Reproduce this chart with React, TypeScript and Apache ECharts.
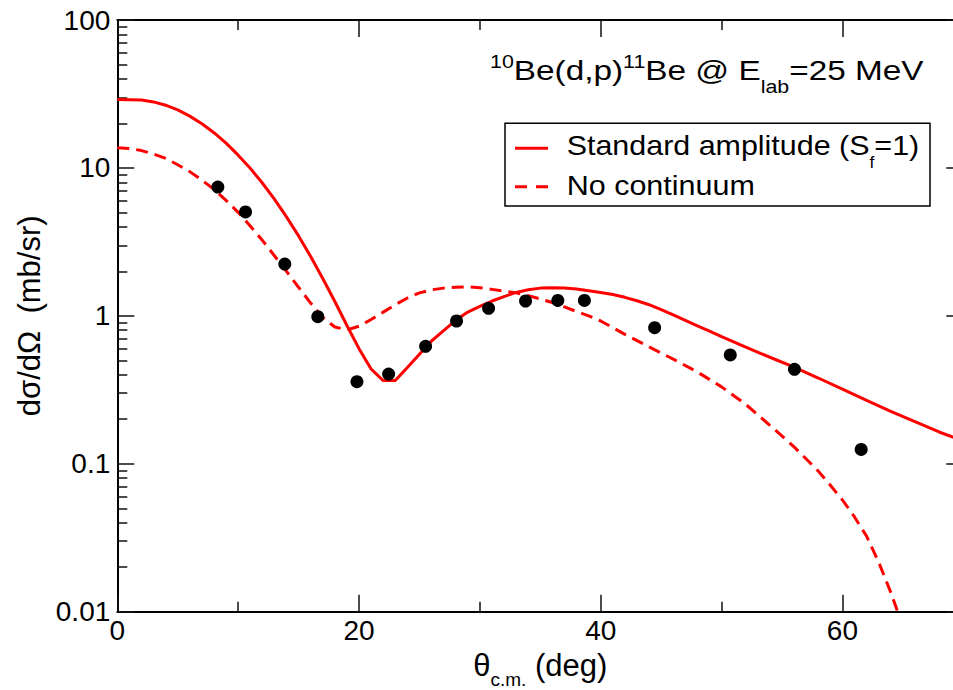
import React, { useEffect, useRef } from 'react';
import * as echarts from 'echarts';

// ---- data ----
const expTheta = [8.32, 10.61, 13.86, 16.59, 19.83, 22.45, 25.51, 28.07, 30.72, 33.78, 36.45, 38.65, 44.46, 50.72, 56.03, 61.55];
const expSigma = [7.43, 5.04, 2.24, 0.987, 0.359, 0.404, 0.622, 0.923, 1.125, 1.26, 1.27, 1.27, 0.832, 0.544, 0.435, 0.125];

const stdTheta = [
  0, 1, 2, 3, 4, 5, 6, 7, 8, 9, 10, 11, 12, 13, 14, 15, 16, 17, 18, 19, 20,
  21, 22, 23, 24, 25, 26, 27, 28, 29, 30, 31, 32, 33, 34, 35, 36, 37, 38, 39, 40,
  41, 42, 43, 44, 45, 46, 47, 48, 49, 50,
  52, 54, 56, 58, 60, 62, 64, 66, 68, 70,
];
const stdSigma = [
  29.0, 28.95, 28.8, 27.95, 26.55, 24.7, 22.4, 19.9, 17.3, 14.7, 12.2, 9.94, 7.91, 6.15, 4.67, 3.47, 2.52, 1.79, 1.25, 0.86, 0.6,
  0.437, 0.365, 0.365, 0.447, 0.55, 0.676, 0.794, 0.933, 1.06, 1.16, 1.26, 1.35, 1.44, 1.5, 1.54, 1.55, 1.54, 1.52, 1.48, 1.44,
  1.393, 1.334, 1.265, 1.189, 1.1, 1.016, 0.933, 0.857, 0.787, 0.723,
  0.614, 0.525, 0.45, 0.38, 0.32, 0.268, 0.226, 0.193, 0.164, 0.143,
];

const ncTheta = [
  0, 1, 2, 3, 4, 5, 6, 7, 8, 9, 10, 11, 12, 13, 14, 15, 16,
  17, 18, 19, 20, 21, 22, 23, 24, 25, 26, 27, 28, 29, 30, 31, 32, 33, 34, 35, 36, 37, 38, 39, 40,
  42, 44, 46, 48, 50, 52, 54, 56, 58,
  59, 60, 61, 62, 63, 64, 65,
];
const ncSigma = [
  13.7, 13.55, 13.1, 12.4, 11.6, 10.5, 9.44, 8.28, 7.16, 6.03, 5.01, 4.05, 3.24, 2.55, 2.0, 1.56, 1.22,
  0.977, 0.841, 0.804, 0.851, 0.944, 1.06, 1.19, 1.32, 1.43, 1.5, 1.54, 1.56, 1.57, 1.55, 1.51, 1.47, 1.43, 1.37, 1.3, 1.23, 1.15, 1.07, 1.0, 0.923,
  0.75, 0.617, 0.51, 0.417, 0.331, 0.252, 0.182, 0.13, 0.0892,
  0.0716, 0.0569, 0.0437, 0.0324, 0.0216, 0.0135, 0.00794,
];

const xTickValues = [0, 20, 40, 60];
const xMinorTickValues = [10, 30, 50];
const yTickLabels = ['0.01', '0.1', '1', '10', '100'];
const yMajorValues = [0.01, 0.1, 1, 10, 100];
const yMinorValues = [0.02, 0.03, 0.04, 0.05, 0.06, 0.07, 0.08, 0.09, 0.2, 0.3, 0.4, 0.5, 0.6, 0.7, 0.8, 0.9, 2, 3, 4, 5, 6, 7, 8, 9, 20, 30, 40, 50, 60, 70, 80, 90];

const seriesNames = ['Standard amplitude (S_f=1)', 'No continuum', 'Data'];

const FONT = '"Liberation Sans", Arial, Helvetica, sans-serif';
const RED = '#ff0000';

export default function App() {
  const ref = useRef<HTMLDivElement>(null);

  useEffect(() => {
    if (!ref.current) return;
    const chart = echarts.init(ref.current, undefined, { renderer: 'svg' });

    const tickLine = { color: '#111', width: 1.5 };
    const frameLine = { color: '#000', width: 2 };
    const hiddenLabel = { show: false };
    const noSplit = { show: false };

    const xCommon = { type: 'value', min: 0, max: 70, splitLine: noSplit };
    const yLogCommon = { type: 'log', logBase: 10, min: 0.01, max: 100, splitLine: noSplit };
    const yExpCommon = { type: 'value', min: -2, max: 2, splitLine: noSplit };

    const option: any = {
      animation: false,
      backgroundColor: '#fff',
      textStyle: { fontFamily: FONT },
      grid: { left: 117.3, top: 20, width: 846, height: 591.7, containLabel: false, outerBoundsMode: 'none' },
      xAxis: [
        {
          ...xCommon,
          position: 'bottom',
          axisLine: { show: true, onZero: false, lineStyle: frameLine },
          axisTick: { show: true, inside: true, length: 17, customValues: xTickValues, lineStyle: tickLine },
          axisLabel: { show: true, customValues: xTickValues, margin: 5, fontSize: 28, color: '#000', fontFamily: FONT },
          name: '{m|θ}{s|c.m.}{m| (deg)}',
          nameLocation: 'middle',
          nameGap: 32,
          nameTextStyle: {
            color: '#000',
            fontFamily: FONT,
            rich: {
              m: { fontSize: 31, lineHeight: 31, verticalAlign: 'top', fontFamily: FONT, color: '#000' },
              s: { fontSize: 19, lineHeight: 19, verticalAlign: 'top', padding: [20, 0, 0, 0], fontFamily: FONT, color: '#000' },
            },
          },
        },
        {
          ...xCommon,
          position: 'bottom',
          axisLine: { show: false, onZero: false },
          axisTick: { show: true, inside: true, length: 10, customValues: xMinorTickValues, lineStyle: tickLine },
          axisLabel: hiddenLabel,
        },
        {
          ...xCommon,
          position: 'top',
          axisLine: { show: true, onZero: false, lineStyle: frameLine },
          axisTick: { show: true, inside: true, length: 17, customValues: xTickValues, lineStyle: tickLine },
          axisLabel: hiddenLabel,
        },
        {
          ...xCommon,
          position: 'top',
          axisLine: { show: false, onZero: false },
          axisTick: { show: true, inside: true, length: 10, customValues: xMinorTickValues, lineStyle: tickLine },
          axisLabel: hiddenLabel,
        },
      ],
      yAxis: [
        {
          ...yLogCommon,
          position: 'left',
          axisLine: { show: true, onZero: false, lineStyle: frameLine },
          axisTick: { show: true, inside: true, length: 17, lineStyle: tickLine },
          axisLabel: {
            show: true,
            margin: 7,
            fontSize: 28,
            color: '#000',
            fontFamily: FONT,
            formatter: (v: number) => yTickLabels[Math.round(Math.log10(v)) + 2] ?? '',
          },
          name: 'dσ/dΩ  (mb/sr)',
          nameLocation: 'middle',
          nameGap: 61,
          nameTextStyle: { fontSize: 31, color: '#000', fontFamily: FONT },
        },
        {
          ...yExpCommon,
          position: 'left',
          axisLine: { show: false, onZero: false },
          axisTick: { show: true, inside: true, length: 10, customValues: yMinorValues.map((v) => Math.log10(v)), lineStyle: tickLine },
          axisLabel: hiddenLabel,
        },
        {
          ...yExpCommon,
          position: 'right',
          axisLine: { show: true, onZero: false, lineStyle: frameLine },
          axisTick: { show: true, inside: true, length: 17, customValues: yMajorValues.map((v) => Math.log10(v)), lineStyle: tickLine },
          axisLabel: hiddenLabel,
        },
        {
          ...yExpCommon,
          position: 'right',
          axisLine: { show: false, onZero: false },
          axisTick: { show: true, inside: true, length: 10, customValues: yMinorValues.map((v) => Math.log10(v)), lineStyle: tickLine },
          axisLabel: hiddenLabel,
        },
      ],
      series: [
        {
          name: seriesNames[0],
          type: 'line',
          xAxisIndex: 0,
          yAxisIndex: 0,
          data: stdTheta.map((t, i) => [t, stdSigma[i]]),
          showSymbol: false,
          symbol: 'none',
          smooth: false,
          clip: true,
          lineStyle: { color: RED, width: 3 },
          z: 3,
        },
        {
          name: seriesNames[1],
          type: 'line',
          xAxisIndex: 0,
          yAxisIndex: 0,
          data: ncTheta.map((t, i) => [t, ncSigma[i]]),
          showSymbol: false,
          symbol: 'none',
          smooth: false,
          clip: true,
          lineStyle: { color: RED, width: 3, type: [12, 7] },
          z: 3,
        },
        {
          name: seriesNames[2],
          type: 'scatter',
          xAxisIndex: 0,
          yAxisIndex: 0,
          data: expTheta.map((t, i) => [t, expSigma[i]]),
          symbol: 'circle',
          symbolSize: 13,
          itemStyle: { color: '#000', opacity: 1 },
          z: 4,
        },
      ],
      graphic: [
        {
          type: 'text',
          x: 490,
          y: 53,
          scaleX: 1.19,
          z: 100,
          style: {
            text: '{sup|10}{m|Be(d,p)}{sup|11}{m|Be @ E}{sub|lab}{m|=25 MeV}',
            align: 'left',
            verticalAlign: 'top',
            fill: '#000',
            fontFamily: FONT,
            rich: {
              m: { fontSize: 28, lineHeight: 28, verticalAlign: 'top', padding: [3.3, 0, 0, 0], fontFamily: FONT, fill: '#000' },
              sup: { fontSize: 18, lineHeight: 18, verticalAlign: 'top', fontFamily: FONT, fill: '#000' },
              sub: { fontSize: 18, lineHeight: 18, verticalAlign: 'top', padding: [24.8, 0, 0, 0], fontFamily: FONT, fill: '#000' },
            },
          },
        },
        {
          type: 'group',
          z: 100,
          children: [
            {
              type: 'rect',
              shape: { x: 505, y: 123.3, width: 425, height: 82.7 },
              style: { fill: '#fff', stroke: '#000', lineWidth: 1.5 },
              z: 100,
            },
            {
              type: 'line',
              shape: { x1: 515, y1: 148.3, x2: 548, y2: 148.3 },
              style: { stroke: RED, lineWidth: 3 },
              z: 101,
            },
            {
              type: 'line',
              shape: { x1: 515, y1: 186.7, x2: 548, y2: 186.7 },
              style: { stroke: RED, lineWidth: 3, lineDash: [12, 9] },
              z: 101,
            },
            {
              type: 'text',
              x: 566.7,
              y: 131.3,
              scaleX: 1.087,
              z: 101,
              style: {
                text: '{m|Standard amplitude (S}{s|f}{m|=1)}',
                align: 'left',
                verticalAlign: 'top',
                fill: '#000',
                fontFamily: FONT,
                rich: {
                  m: { fontSize: 28, lineHeight: 28, verticalAlign: 'top', fontFamily: FONT, fill: '#000' },
                  s: { fontSize: 16, lineHeight: 16, verticalAlign: 'top', padding: [23.5, 0, 0, 0], fontFamily: FONT, fill: '#000' },
                },
              },
            },
            {
              type: 'text',
              x: 566.7,
              y: 185,
              scaleX: 1.09,
              z: 101,
              style: {
                text: seriesNames[1],
                align: 'left',
                verticalAlign: 'middle',
                fill: '#000',
                fontSize: 28,
                fontFamily: FONT,
              },
            },
          ],
        },
      ],
    };

    chart.setOption(option);
    return () => chart.dispose();
  }, []);

  return (
    <div style={{ position: 'fixed', left: 0, top: 0, width: 953, height: 690, overflow: 'hidden', background: '#fff' }}>
      <div ref={ref} style={{ width: 990, height: 690 }} />
    </div>
  );
}
